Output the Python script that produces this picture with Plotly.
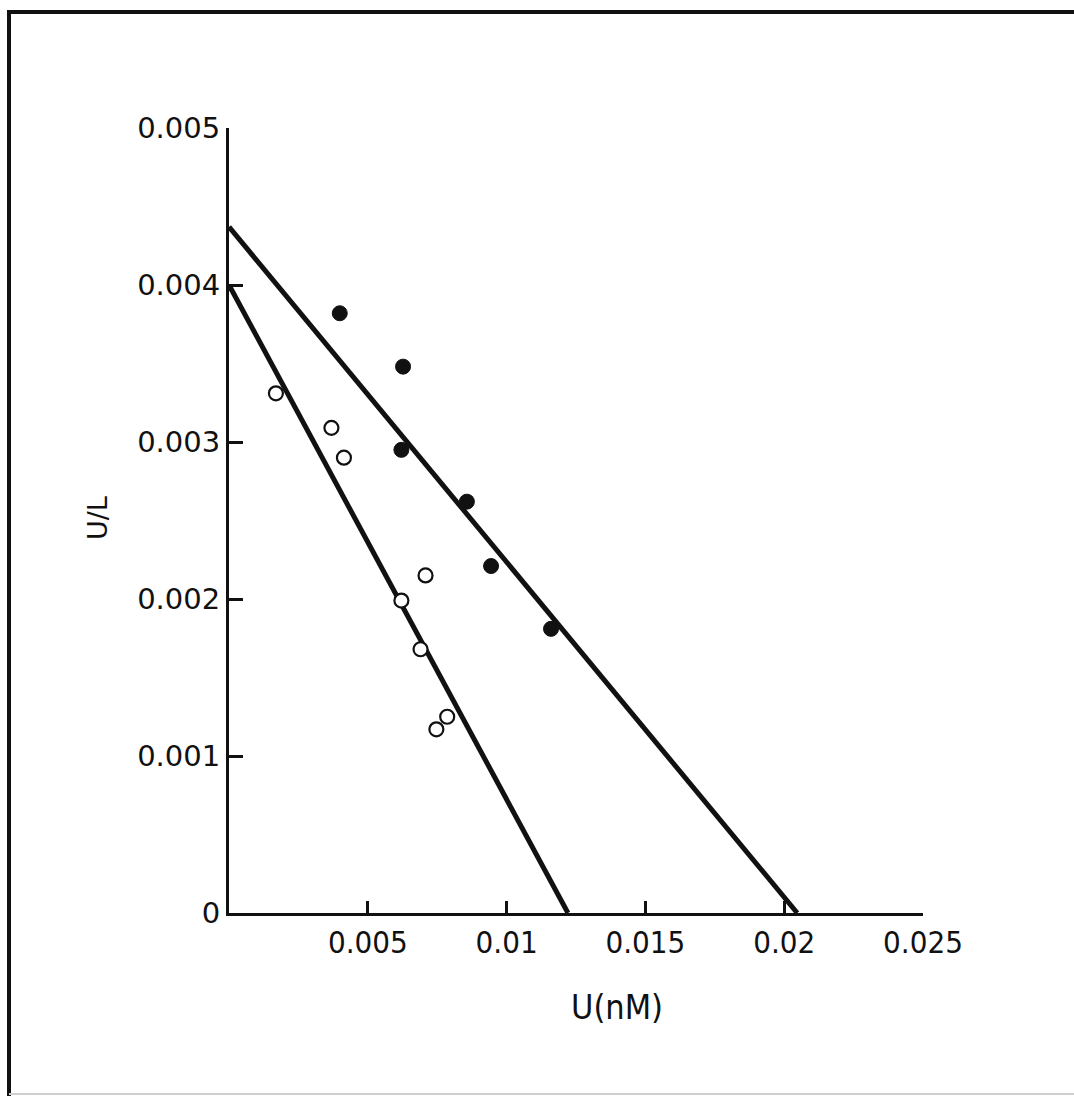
import plotly.graph_objects as go

# Scatchard-type data: bound U (nM) vs U/L ratio
filled_x = [0.00399, 0.00627, 0.00621, 0.00857, 0.00944, 0.0116]
filled_y = [0.00382, 0.00348, 0.00295, 0.00262, 0.00221, 0.00181]

open_x = [0.00169, 0.00369, 0.00414, 0.00708, 0.00621, 0.00690, 0.00786, 0.00747]
open_y = [0.00331, 0.00309, 0.00290, 0.00215, 0.00199, 0.00168, 0.00125, 0.00117]

# Fitted lines: intercepts on each axis
filled_fit_y0 = 0.00437
filled_fit_x0 = 0.02047
open_fit_y0 = 0.00400
open_fit_x0 = 0.01221

x_ticks = [0.005, 0.01, 0.015, 0.02, 0.025]
x_ticklabels = ["0.005", "0.01", "0.015", "0.02", "0.025"]
y_ticks = [0, 0.001, 0.002, 0.003, 0.004, 0.005]
y_ticklabels = ["0", "0.001", "0.002", "0.003", "0.004", "0.005"]

W, H = 1074, 1096
ML, MR, MT, MB = 229, 151, 128, 183
PW, PH = W - ML - MR, H - MT - MB

NARROW = "Liberation Sans Narrow, DejaVu Sans Condensed, Arial Narrow, sans-serif"
WIDE = "DejaVu Sans, Verdana, sans-serif"
INK = "#111111"

fig = go.Figure()

fig.add_trace(go.Scatter(
    x=[0, filled_fit_x0], y=[filled_fit_y0, 0], mode="lines",
    line=dict(color=INK, width=5), cliponaxis=False, showlegend=False))
fig.add_trace(go.Scatter(
    x=[0, open_fit_x0], y=[open_fit_y0, 0], mode="lines",
    line=dict(color=INK, width=5), cliponaxis=False, showlegend=False))

fig.add_trace(go.Scatter(
    x=filled_x, y=filled_y, mode="markers",
    marker=dict(symbol="circle", size=15, color=INK, line=dict(color=INK, width=1)),
    showlegend=False))
fig.add_trace(go.Scatter(
    x=open_x, y=open_y, mode="markers",
    marker=dict(symbol="circle", size=14, color="white", line=dict(color=INK, width=2.2)),
    showlegend=False))


def px_x(p):
    return (p - ML) / PW


def px_y(p):
    return (H - MB - p) / PH


shapes = [
    # page frame: left and top rules, faint bottom rule
    dict(type="line", xref="paper", yref="paper", x0=px_x(9), x1=px_x(9),
         y0=px_y(10), y1=px_y(1096), line=dict(color=INK, width=4)),
    dict(type="line", xref="paper", yref="paper", x0=px_x(7), x1=px_x(1074),
         y0=px_y(12), y1=px_y(12), line=dict(color=INK, width=4)),
    dict(type="line", xref="paper", yref="paper", x0=px_x(9), x1=px_x(1074),
         y0=px_y(1094), y1=px_y(1094), line=dict(color="#cfcfcf", width=2)),
]

annotations = [
    dict(text="U/L", xref="paper", yref="paper", x=px_x(97), y=px_y(518),
         showarrow=False, textangle=-90, font=dict(family=WIDE, size=27, color=INK),
         xanchor="center", yanchor="middle"),
    dict(text="U(nM)", xref="paper", yref="paper", x=px_x(617), y=px_y(1007),
         showarrow=False, font=dict(family=NARROW, size=34, color=INK),
         xanchor="center", yanchor="middle"),
]

fig.update_layout(
    width=W, height=H,
    margin=dict(l=ML, r=MR, t=MT, b=MB, pad=0),
    paper_bgcolor="white", plot_bgcolor="white",
    shapes=shapes, annotations=annotations,
    xaxis=dict(range=[0, 0.025], showgrid=False, zeroline=False,
               showline=True, linewidth=3, linecolor=INK,
               ticks="inside", ticklen=12, tickwidth=3, tickcolor=INK,
               tickvals=x_ticks, ticktext=x_ticklabels,
               tickfont=dict(family=NARROW, size=31, color=INK)),
    yaxis=dict(range=[0, 0.005], showgrid=False, zeroline=False,
               showline=True, linewidth=3, linecolor=INK,
               ticks="inside", ticklen=14, tickwidth=3, tickcolor=INK,
               tickvals=y_ticks, ticktext=y_ticklabels,
               tickfont=dict(family=WIDE, size=29, color=INK)),
)

fig.write_html("out.html")
